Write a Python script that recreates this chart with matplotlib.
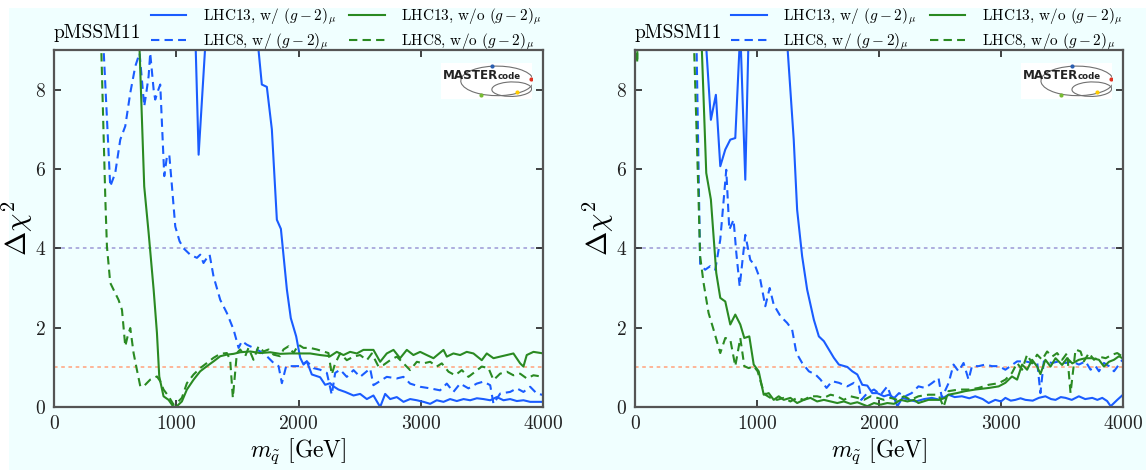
import matplotlib
matplotlib.use("Agg")
import matplotlib.pyplot as plt
from matplotlib.patches import Rectangle, Ellipse

plt.rcParams['font.family'] = 'serif'
plt.rcParams['font.serif'] = ['cmr10', 'DejaVu Serif']
plt.rcParams['mathtext.fontset'] = 'cm'
plt.rcParams['axes.formatter.use_mathtext'] = True

# ---------------- data: (m_squark [GeV], Delta chi^2) points, left panel ----------------
L_13w = [(1100, 15), (1155, 9.5), (1183, 6.36), (1245, 9.5), (1300, 15), (1640, 15), (1673, 9.0), (1700, 8.13),
         (1741, 8.07), (1782, 7.0), (1823, 4.72), (1856, 4.49), (1905, 2.96), (1937, 2.24), (1981, 1.78),
         (2014, 1.24), (2041, 1.07), (2068, 1.15), (2109, 0.82), (2177, 0.75), (2218, 0.56), (2259, 0.6),
         (2286, 0.52), (2327, 0.44), (2382, 0.38), (2450, 0.29), (2504, 0.33), (2559, 0.2), (2613, 0.29),
         (2668, 0.0), (2709, 0.33), (2750, 0.2), (2804, 0.25), (2859, 0.13), (2913, 0.2), (2968, 0.17),
         (3022, 0.13), (3077, 0.08), (3131, 0.17), (3186, 0.13), (3240, 0.2), (3295, 0.15), (3350, 0.2),
         (3404, 0.17), (3459, 0.22), (3513, 0.2), (3568, 0.17), (3622, 0.25), (3677, 0.17), (3731, 0.2),
         (3786, 0.15), (3840, 0.17), (3895, 0.13), (4000, 0.13)]

L_8w = [(380, 15), (406, 9.0), (460, 5.56), (501, 5.9), (542, 6.74), (583, 7.08), (624, 7.92), (665, 8.59),
        (700, 8.92), (719, 8.25), (738, 7.58), (755, 7.92), (774, 8.34), (787, 8.92), (815, 8.0), (828, 7.75),
        (848, 7.95), (869, 8.13), (902, 5.82), (924, 6.32), (943, 6.36), (965, 5.56), (992, 4.55),
        (1027, 4.18), (1060, 4.0), (1114, 3.84), (1169, 3.76), (1196, 3.84), (1223, 3.63), (1251, 3.76),
        (1273, 3.84), (1305, 3.29), (1360, 2.7), (1414, 2.37), (1469, 1.95), (1510, 1.49), (1537, 1.66),
        (1578, 1.57), (1632, 1.49), (1687, 1.4), (1741, 1.28), (1796, 1.11), (1837, 1.03), (1864, 0.6),
        (1899, 1.03), (1959, 1.03), (2014, 1.03), (2068, 1.15), (2123, 0.98), (2177, 0.94), (2232, 0.86),
        (2272, 0.31), (2300, 0.86), (2341, 0.94), (2395, 0.76), (2450, 0.93), (2504, 0.76), (2586, 0.97),
        (2613, 0.55), (2722, 0.76), (2804, 0.72), (2858, 0.76), (2913, 0.59), (2995, 0.51), (3077, 0.47),
        (3158, 0.42), (3213, 0.59), (3267, 0.38), (3322, 0.59), (3390, 0.47), (3458, 0.59), (3513, 0.64),
        (3568, 0.55), (3595, 0.08), (3650, 0.34), (3731, 0.38), (3786, 0.47), (3840, 0.38), (3895, 0.51),
        (3949, 0.34), (4004, 0.3)]

L_13wo = [(690, 15), (700, 9.0), (738, 5.56), (774, 4.39), (815, 2.96), (842, 1.87), (861, 0.77), (896, 0.27),
          (937, 0.18), (978, 0.0), (1005, 0.02), (1046, 0.14), (1087, 0.44), (1142, 0.69), (1196, 0.9),
          (1251, 1.03), (1305, 1.15), (1360, 1.28), (1414, 1.32), (1469, 1.34), (1523, 1.38), (1605, 1.4),
          (1687, 1.36), (1769, 1.38), (1850, 1.34), (1932, 1.35), (2013, 1.35), (2095, 1.35), (2177, 1.31),
          (2259, 1.28), (2313, 1.39), (2368, 1.31), (2422, 1.39), (2477, 1.35), (2531, 1.44), (2613, 1.44),
          (2668, 1.14), (2722, 1.35), (2777, 1.44), (2831, 1.23), (2886, 1.44), (2940, 1.31), (2995, 1.39),
          (3049, 1.31), (3104, 1.23), (3186, 1.44), (3213, 1.27), (3267, 1.35), (3322, 1.31), (3376, 1.39),
          (3431, 1.35), (3499, 1.18), (3540, 1.35), (3595, 1.23), (3649, 1.27), (3704, 1.31), (3758, 1.35),
          (3813, 1.1), (3840, 1.02), (3867, 1.31), (3922, 1.39), (4004, 1.35)]

L_8wo = [(370, 15), (387, 9.0), (420, 5.23), (433, 4.05), (460, 3.13), (501, 2.87), (528, 2.7), (556, 2.45),
         (583, 1.53), (602, 1.78), (624, 1.99), (651, 1.36), (678, 0.94), (706, 0.52), (733, 0.52), (787, 0.69),
         (842, 0.77), (869, 0.65), (896, 0.44), (937, 0.27), (978, 0.06), (1005, 0.1), (1046, 0.23),
         (1087, 0.6), (1142, 0.82), (1196, 0.98), (1251, 1.11), (1305, 1.24), (1360, 1.34), (1414, 1.36),
         (1441, 1.19), (1463, 0.23), (1496, 1.36), (1523, 1.45), (1564, 1.28), (1591, 1.49), (1632, 1.19),
         (1673, 1.53), (1714, 1.4), (1755, 1.45), (1796, 1.32), (1850, 1.28), (1877, 1.45), (1918, 1.53),
         (1959, 1.36), (2000, 1.57), (2041, 1.49), (2095, 1.49), (2150, 1.45), (2204, 1.4), (2245, 1.36),
         (2272, 0.82), (2300, 1.1), (2341, 1.35), (2395, 1.18), (2450, 1.27), (2504, 1.31), (2559, 1.18),
         (2600, 1.35), (2654, 1.02), (2695, 1.06), (2750, 1.18), (2804, 1.27), (2859, 1.1), (2913, 0.93),
         (2968, 1.14), (3022, 1.1), (3077, 1.14), (3131, 1.02), (3172, 1.1), (3227, 0.89), (3281, 0.8),
         (3336, 0.93), (3390, 0.76), (3445, 0.89), (3499, 1.02), (3554, 0.98), (3595, 0.68), (3649, 0.84),
         (3704, 0.89), (3758, 0.8), (3813, 0.84), (3867, 0.72), (3922, 0.8), (4004, 0.76)]

# ---------------- data: right panel ----------------
R_13w = [(540, 15), (575, 9.5), (622, 7.24), (663, 7.87), (699, 6.07), (740, 6.49), (781, 6.74), (822, 6.78),
         (863, 9.5), (904, 5.73), (932, 9.5), (1000, 15), (1200, 15), (1247, 9.2), (1301, 6.74), (1329, 4.97),
         (1370, 3.8), (1411, 2.96), (1466, 2.2), (1507, 1.78), (1548, 1.66), (1589, 1.45), (1630, 1.24),
         (1671, 1.07), (1740, 1.01), (1781, 0.9), (1822, 0.82), (1863, 0.56), (1904, 0.54), (1945, 0.35),
         (1986, 0.35), (2041, 0.27), (2082, 0.31), (2123, 0.23), (2151, 0.02), (2192, 0.23), (2247, 0.18),
         (2301, 0.14), (2370, 0.2), (2433, 0.23), (2500, 0.18), (2570, 0.31), (2620, 0.25), (2679, 0.27),
         (2740, 0.22), (2789, 0.27), (2850, 0.2), (2899, 0.1), (2953, 0.18), (3000, 0.14), (3036, 0.23),
         (3080, 0.16), (3118, 0.18), (3160, 0.22), (3200, 0.18), (3260, 0.16), (3310, 0.23), (3364, 0.27),
         (3410, 0.2), (3447, 0.18), (3490, 0.25), (3529, 0.23), (3580, 0.18), (3638, 0.27), (3690, 0.2),
         (3748, 0.23), (3790, 0.18), (3830, 0.23), (3870, 0.15), (3899, 0.02), (3953, 0.18), (4000, 0.31)]

R_8w = [(470, 15), (505, 9.0), (534, 3.59), (575, 3.46), (616, 3.55), (658, 3.46), (699, 4.22), (748, 5.98),
        (773, 4.47), (808, 4.72), (830, 3.9), (858, 3.04), (904, 4.34), (945, 3.71), (986, 3.55), (1027, 3.21),
        (1068, 2.54), (1104, 3.0), (1137, 2.58), (1192, 2.29), (1247, 2.12), (1288, 1.95), (1323, 1.36),
        (1370, 1.11), (1425, 0.9), (1479, 0.82), (1521, 0.69), (1570, 0.48), (1616, 0.65), (1671, 0.61),
        (1740, 0.52), (1795, 0.61), (1836, 0.52), (1855, 0.18), (1904, 0.35), (1959, 0.44), (2014, 0.31),
        (2068, 0.52), (2110, 0.18), (2164, 0.35), (2214, 0.27), (2268, 0.35), (2323, 0.52), (2378, 0.48),
        (2433, 0.6), (2488, 0.73), (2515, 0.23), (2570, 0.6), (2611, 1.07), (2652, 0.9), (2693, 1.11),
        (2734, 0.69), (2762, 1.03), (2817, 1.03), (2871, 1.07), (2926, 1.03), (2981, 1.03), (3036, 0.94),
        (3077, 1.03), (3132, 1.15), (3200, 1.15), (3255, 1.11), (3296, 1.15), (3323, 0.35), (3351, 1.15),
        (3419, 1.11), (3474, 1.15), (3529, 1.11), (3584, 1.15), (3638, 1.07), (3693, 1.15), (3734, 0.94),
        (3775, 1.03), (3803, 0.9), (3844, 1.11), (3885, 1.03), (3926, 0.9), (3967, 1.07), (3995, 1.19)]

R_13wo = [(520, 15), (548, 9.0), (584, 5.9), (622, 5.23), (666, 3.38), (699, 2.75), (740, 2.66), (781, 2.08),
          (822, 2.33), (863, 2.08), (896, 1.74), (937, 1.78), (973, 1.07), (1014, 0.9), (1055, 0.31),
          (1096, 0.35), (1137, 0.18), (1178, 0.27), (1219, 0.18), (1274, 0.23), (1329, 0.1), (1384, 0.18),
          (1438, 0.23), (1493, 0.14), (1548, 0.18), (1603, 0.14), (1658, 0.1), (1712, 0.14), (1767, 0.08),
          (1822, 0.12), (1904, 0.02), (1959, 0.1), (2014, 0.06), (2068, 0.1), (2123, 0.08), (2178, 0.18),
          (2233, 0.14), (2288, 0.18), (2323, 0.1), (2405, 0.18), (2488, 0.18), (2543, 0.23), (2570, 0.31),
          (2638, 0.35), (2707, 0.4), (2789, 0.44), (2899, 0.48), (2981, 0.52), (3036, 0.61), (3090, 0.77),
          (3132, 0.69), (3173, 1.07), (3214, 0.94), (3255, 1.19), (3296, 1.02), (3323, 0.83), (3364, 1.19),
          (3406, 1.02), (3447, 1.23), (3501, 1.06), (3542, 1.23), (3584, 1.1), (3638, 1.19), (3693, 1.23),
          (3748, 1.23), (3803, 1.19), (3844, 1.02), (3885, 1.14), (3926, 1.19), (3967, 1.28), (3995, 1.23)]

R_8wo = [(5, 15), (18, 8.67), (40, 15), (460, 15), (485, 9.0), (521, 5.23), (534, 3.8), (562, 3.13),
         (603, 2.37), (644, 1.95), (699, 1.36), (740, 1.74), (781, 1.7), (822, 1.03), (863, 1.74), (896, 1.03),
         (932, 0.98), (973, 1.03), (1005, 0.9), (1041, 0.52), (1068, 0.31), (1110, 0.23), (1164, 0.18),
         (1219, 0.23), (1274, 0.14), (1329, 0.23), (1384, 0.18), (1438, 0.27), (1493, 0.27), (1548, 0.23),
         (1603, 0.31), (1658, 0.27), (1712, 0.18), (1767, 0.27), (1822, 0.23), (1877, 0.18), (1932, 0.27),
         (1986, 0.23), (2041, 0.18), (2096, 0.23), (2150, 0.18), (2205, 0.27), (2260, 0.18), (2323, 0.27),
         (2405, 0.31), (2488, 0.31), (2529, 0.0), (2570, 0.4), (2652, 0.44), (2734, 0.44), (2816, 0.48),
         (2899, 0.56), (2981, 0.6), (3036, 0.69), (3090, 0.86), (3132, 1.11), (3173, 0.94), (3214, 1.32),
         (3255, 1.1), (3296, 1.32), (3337, 1.19), (3378, 1.4), (3419, 1.27), (3460, 1.36), (3501, 1.19),
         (3542, 1.36), (3570, 0.35), (3611, 1.45), (3652, 1.4), (3679, 1.15), (3721, 1.36), (3762, 1.19),
         (3803, 1.27), (3858, 1.23), (3912, 1.32), (3953, 1.36), (3995, 1.27)]

panel_title = "pMSSM11"
legend_labels = [r"LHC13, w/ $(g-2)_\mu$", r"LHC8, w/ $(g-2)_\mu$",
                 r"LHC13, w/o $(g-2)_\mu$", r"LHC8, w/o $(g-2)_\mu$"]
x_ticks = [0, 1000, 2000, 3000, 4000]
y_ticks = [0, 2, 4, 6, 8]
ref_levels = [4, 1]

BLUE = '#1a5cff'
GREEN = '#2a8a22'
BG = '#f0ffff'

W, H = 1146, 470
fig = plt.figure(figsize=(W / 100, H / 100), dpi=100)
fig.patch.set_facecolor('white')
fig.patches.append(Rectangle((9 / W, 0), 1 - 9 / W, 1 - 8 / H, transform=fig.transFigure,
                             facecolor=BG, edgecolor='none', zorder=-10))

bottom = (H - 407) / H
height = (407 - 50) / H
axL = fig.add_axes([54 / W, bottom, (543 - 54) / W, height])
axR = fig.add_axes([635 / W, bottom, (1123 - 635) / W, height])


def draw_logo(ax):
    ins = ax.inset_axes([0.791, 0.863, 0.186, 0.101])
    ins.set_xlim(0, 1)
    ins.set_ylim(0, 1)
    ins.set_facecolor('white')
    for s in ins.spines.values():
        s.set_visible(False)
    ins.set_xticks([])
    ins.set_yticks([])
    ins.add_patch(Ellipse((0.62, 0.5), 0.8, 0.82, angle=8, fill=False, edgecolor='#707070', lw=0.8))
    ins.add_patch(Ellipse((0.78, 0.27), 0.44, 0.4, angle=15, fill=False, edgecolor='#707070', lw=0.8))
    ins.text(0.02, 0.66, "MASTER", fontsize=8.6, fontweight='bold', family='DejaVu Sans',
             va='center', ha='left', color='#222222')
    ins.text(0.62, 0.62, "code", fontsize=6.2, fontweight='bold', family='DejaVu Sans',
             va='center', ha='left', color='#222222')
    for (cx, cy, c) in [(0.56, 0.92, '#2a5fb0'), (0.99, 0.55, '#dd3322'),
                        (0.44, 0.1, '#77bb33'), (0.84, 0.18, '#ffcc00')]:
        ins.plot(cx, cy, 'o', ms=3, color=c, mec='none')


def setup(ax, series):
    ax.set_facecolor(BG)
    ax.axhline(ref_levels[0], color='#a8a8dc', lw=1.3, ls=(0, (2, 2)), zorder=1)
    ax.axhline(ref_levels[1], color='#ffb090', lw=1.3, ls=(0, (2, 2)), zorder=1)
    styles = [(BLUE, '-'), (BLUE, '--'), (GREEN, '-'), (GREEN, '--')]
    handles = []
    for pts, (c, ls) in zip(series, styles):
        xs, ys = zip(*pts)
        if ls == '--':
            h, = ax.plot(xs, ys, color=c, lw=1.5, ls=ls, dashes=(4, 2.5))
        else:
            h, = ax.plot(xs, ys, color=c, lw=1.5, ls=ls)
        handles.append(h)
    ax.set_xlim(0, 4000)
    ax.set_ylim(0, 9)
    ax.set_xticks(x_ticks)
    ax.set_yticks(y_ticks)
    ax.tick_params(direction='in', top=True, right=True, length=5, width=1.2, labelsize=14,
                   pad=6, colors='#222222', labelcolor='#222222')
    for s in ax.spines.values():
        s.set_linewidth(1.6)
        s.set_color('#555555')
    ax.set_xlabel(r"$m_{\tilde{q}}$ [GeV]", fontsize=17, labelpad=2)
    ax.set_ylabel(r"$\Delta\chi^2$", fontsize=21, labelpad=0)
    ax.text(0.0, 1.034, panel_title, transform=ax.transAxes, fontsize=14, ha='left', va='baseline')
    ax.legend(handles, legend_labels, ncol=2, frameon=False, fontsize=11,
              loc='lower left', bbox_to_anchor=(0.185, 0.978), handlelength=2.3,
              columnspacing=0.9, handletextpad=1.1, labelspacing=0.3, borderaxespad=0.0)
    draw_logo(ax)


setup(axL, [L_13w, L_8w, L_13wo, L_8wo])
setup(axR, [R_13w, R_8w, R_13wo, R_8wo])

fig.savefig("out.png", dpi=100, facecolor=fig.get_facecolor())
